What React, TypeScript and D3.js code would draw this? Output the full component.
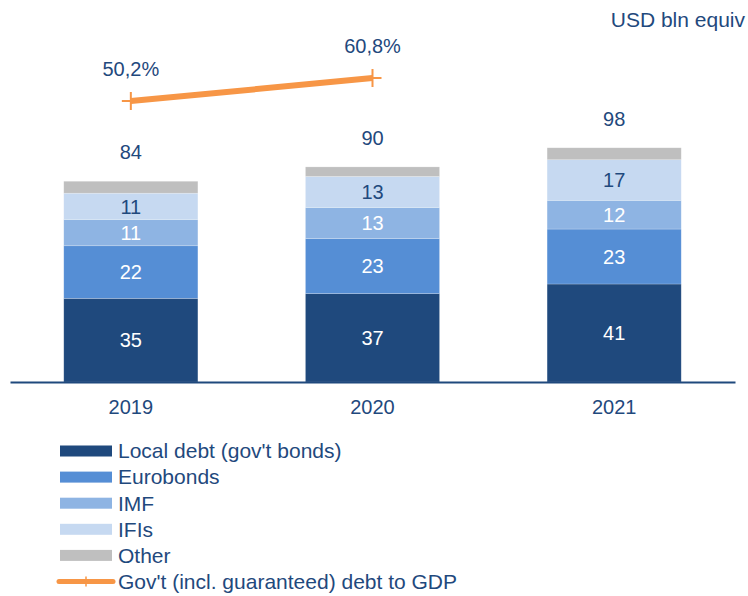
import React, { useEffect, useRef } from 'react';
import * as d3 from 'd3';

// chart values
const years = ['2019', '2020', '2021'];
const seriesNames = ['Local debt (gov\'t bonds)', 'Eurobonds', 'IMF', 'IFIs', 'Other'];
const localDebt = [35, 37, 41];
const eurobonds = [22, 23, 23];
const imf = [11, 13, 12];
const ifis = [11, 13, 17];
const other = [5, 4, 5];
const totals = [84, 90, 98];
const debtToGdp = [50.2, 60.8];
const debtToGdpLabels = ['50,2%', '60,8%'];
const lineName = 'Gov\'t (incl. guaranteed) debt to GDP';

const colors = ['#1F497D', '#558ED5', '#8EB4E3', '#C6D9F1', '#BFBFBF'];
const labelColors = ['#ffffff', '#ffffff', '#ffffff', '#1F497D', null];
const textColor = '#1F497D';
const lineColor = '#F79646';
const font = '"Liberation Sans", Arial, sans-serif';

function App() {
    const svgRef = useRef<SVGSVGElement>(null);

    useEffect(() => {
        const width = 748;
        const height = 596;
        const svg = d3.select(svgRef.current);
        svg.selectAll('*').remove();

        const rows = years.map((year, i) => ({
            year,
            s0: localDebt[i],
            s1: eurobonds[i],
            s2: imf[i],
            s3: ifis[i],
            s4: other[i],
        }));
        const keys = ['s0', 's1', 's2', 's3', 's4'];
        const stacked = d3.stack<any>().keys(keys)(rows);

        const x = d3.scaleBand()
            .domain(years)
            .range([10, 735])
            .paddingInner(0.445)
            .paddingOuter(0.2225);

        const y = d3.scaleLinear()
            .domain([0, 100])
            .range([382, 143]);

        // secondary axis for the debt-to-GDP line (not drawn)
        const y2 = d3.scaleLinear()
            .domain([0, 100])
            .range([210, -7]);

        const g = svg.append('g');

        // bars
        stacked.forEach((layer, li) => {
            g.append('g')
                .selectAll('rect')
                .data(layer)
                .enter()
                .append('rect')
                .attr('x', d => x(d.data.year)!)
                .attr('width', x.bandwidth())
                .attr('y', d => y(d[1]))
                .attr('height', d => y(d[0]) - y(d[1]))
                .attr('fill', colors[li])
                .attr('stroke', '#ffffff')
                .attr('stroke-opacity', 0.35)
                .attr('stroke-width', 0.6);

            if (labelColors[li]) {
                g.append('g')
                    .selectAll('text')
                    .data(layer)
                    .enter()
                    .append('text')
                    .attr('x', d => x(d.data.year)! + x.bandwidth() / 2)
                    .attr('y', d => (y(d[0]) + y(d[1])) / 2)
                    .attr('dy', '0.36em')
                    .attr('text-anchor', 'middle')
                    .attr('font-family', font)
                    .attr('font-size', 20)
                    .attr('fill', labelColors[li]!)
                    .text(d => String(d[1] - d[0]));
            }
        });

        // totals
        g.append('g')
            .selectAll('text')
            .data(years)
            .enter()
            .append('text')
            .attr('x', d => x(d)! + x.bandwidth() / 2)
            .attr('y', (d, i) => y(totals[i]) - 22)
            .attr('text-anchor', 'middle')
            .attr('font-family', font)
            .attr('font-size', 20)
            .attr('fill', textColor)
            .text((d, i) => String(totals[i]));

        // baseline + category labels
        const xAxis = g.append('g')
            .attr('transform', `translate(0,${y(0)})`)
            .call(d3.axisBottom(x).tickSize(0).tickPadding(18));
        xAxis.select('.domain')
            .attr('stroke', textColor)
            .attr('stroke-width', 2);
        xAxis.selectAll('text')
            .attr('font-family', font)
            .attr('font-size', 20)
            .attr('fill', textColor);

        // debt to GDP line
        const linePts = debtToGdp.map((v, i) => [x(years[i])! + x.bandwidth() / 2, y2(v)] as [number, number]);
        g.append('path')
            .attr('d', d3.line()(linePts))
            .attr('fill', 'none')
            .attr('stroke', lineColor)
            .attr('stroke-width', 6);

        g.append('g')
            .selectAll('path')
            .data(linePts)
            .enter()
            .append('path')
            .attr('d', d3.symbol(d3.symbolCross, 1)())
            .attr('d', d => `M${d[0] - 9},${d[1]}H${d[0] + 9}M${d[0]},${d[1] - 9}V${d[1] + 9}`)
            .attr('stroke', lineColor)
            .attr('stroke-width', 2)
            .attr('fill', 'none');

        g.append('g')
            .selectAll('text')
            .data(linePts)
            .enter()
            .append('text')
            .attr('x', d => d[0])
            .attr('y', d => d[1] - 25)
            .attr('text-anchor', 'middle')
            .attr('font-family', font)
            .attr('font-size', 20)
            .attr('fill', textColor)
            .text((d, i) => debtToGdpLabels[i]);

        // units
        svg.append('text')
            .attr('x', 745)
            .attr('y', 27)
            .attr('text-anchor', 'end')
            .attr('font-family', font)
            .attr('font-size', 21)
            .attr('fill', textColor)
            .text('USD bln equiv');

        // legend
        const legend = svg.append('g').attr('transform', 'translate(60,451)');
        const rowH = 26.1;
        seriesNames.forEach((name, i) => {
            const row = legend.append('g').attr('transform', `translate(0,${i * rowH})`);
            row.append('rect')
                .attr('x', 0)
                .attr('y', -5.5)
                .attr('width', 52)
                .attr('height', 11)
                .attr('fill', colors[i]);
            row.append('text')
                .attr('x', 58)
                .attr('y', 0)
                .attr('dy', '0.35em')
                .attr('font-family', font)
                .attr('font-size', 21)
                .attr('fill', textColor)
                .text(name);
        });
        const lineRow = legend.append('g').attr('transform', `translate(0,${seriesNames.length * rowH})`);
        lineRow.append('line')
            .attr('x1', -1)
            .attr('x2', 53)
            .attr('stroke', lineColor)
            .attr('stroke-width', 5)
            .attr('stroke-linecap', 'round');
        lineRow.append('line')
            .attr('x1', 26)
            .attr('x2', 26)
            .attr('y1', -5)
            .attr('y2', 5)
            .attr('stroke', lineColor)
            .attr('stroke-width', 1.5);
        lineRow.append('text')
            .attr('x', 58)
            .attr('y', 0)
            .attr('dy', '0.35em')
            .attr('font-family', font)
            .attr('font-size', 21)
            .attr('fill', textColor)
            .text(lineName);
    }, []);

    return (
        <svg
            ref={svgRef}
            width={748}
            height={596}
            style={{ position: 'absolute', left: 0, top: 0, background: '#ffffff' }}
        ></svg>
    );
}

export default App;
